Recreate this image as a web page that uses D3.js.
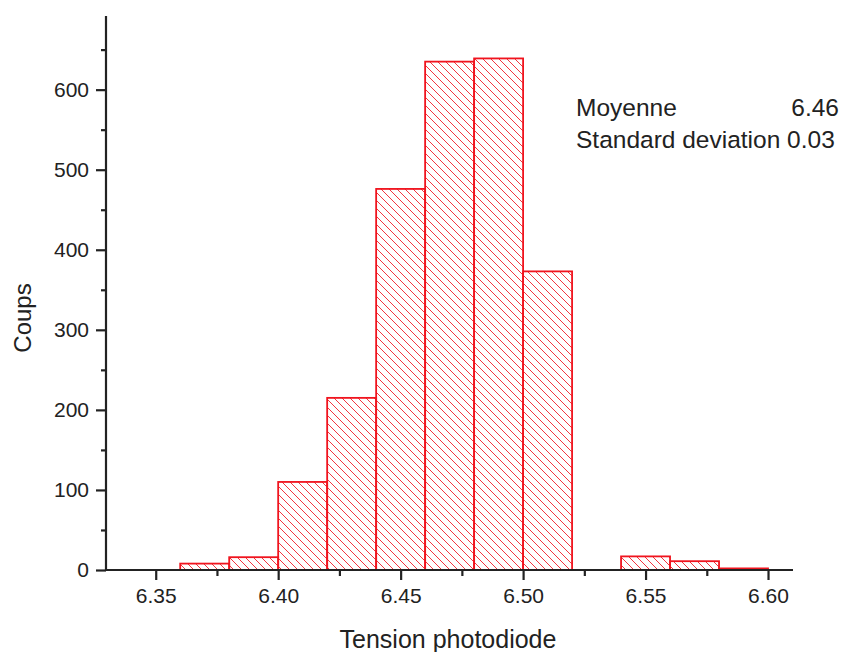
<!DOCTYPE html>
<html>
<head>
<meta charset="utf-8">
<script src="https://cdn.jsdelivr.net/npm/d3@7"></script>
<style>
  html, body { margin: 0; padding: 0; background: #fff; }
  svg { display: block; }
  text { font-family: "Liberation Sans", Arial, Helvetica, sans-serif; fill: #222; }
</style>
</head>
<body>
<svg id="chart" width="847" height="652"></svg>
<script>
// ---- data ----
const binEdges = [6.36, 6.38, 6.40, 6.42, 6.44, 6.46, 6.48, 6.50, 6.52, 6.54, 6.56, 6.58, 6.60];
const counts   = [8, 16, 110, 215, 476, 635, 639, 373, 0, 17, 11, 2];
const xMajorTicks = [6.35, 6.40, 6.45, 6.50, 6.55, 6.60];
const xMinorTicks = [6.375, 6.425, 6.475, 6.525, 6.575];
const yMajorTicks = [0, 100, 200, 300, 400, 500, 600];
const yMinorTicks = [50, 150, 250, 350, 450, 550, 650];
const statLabels = ["Moyenne", "Standard deviation"];
const statValues = ["6.46", "0.03"];
const xTitle = "Tension photodiode";
const yTitle = "Coups";

// ---- layout ----
const svg = d3.select("#chart");
const x0 = 106, x1 = 793, y0 = 570, y1 = 16;
const x = d3.scaleLinear().domain([6.3297, 6.6102]).range([x0, x1]);
const y = d3.scaleLinear().domain([0, 692]).range([y0, y1]);
const red = "#f0141e";

// hatch pattern
const defs = svg.append("defs");
const pat = defs.append("pattern")
  .attr("id", "hatch").attr("patternUnits", "userSpaceOnUse")
  .attr("width", 8).attr("height", 8);
pat.append("path")
  .attr("d", "M-2,-2 L10,10 M-2,6 L2,10 M6,-2 L10,2")
  .attr("stroke", red).attr("stroke-width", 1).attr("stroke-opacity", 0.85);

// bars
const bins = counts.map((c, i) => ({ x0: binEdges[i], x1: binEdges[i + 1], c }));
svg.append("g").selectAll("rect")
  .data(bins.filter(d => d.c > 0))
  .join("rect")
  .attr("x", d => x(d.x0))
  .attr("y", d => y(d.c))
  .attr("width", d => x(d.x1) - x(d.x0))
  .attr("height", d => y(0) - y(d.c))
  .attr("fill", "url(#hatch)")
  .attr("stroke", red)
  .attr("stroke-width", 1.8);

// x axis
const xAxis = svg.append("g").attr("transform", `translate(0,${y0})`);
xAxis.call(d3.axisBottom(x).tickValues(xMajorTicks).tickFormat(d3.format(".2f"))
  .tickSizeInner(10).tickSizeOuter(0).tickPadding(8));
xAxis.append("g").call(d3.axisBottom(x).tickValues(xMinorTicks).tickFormat("")
  .tickSizeInner(6).tickSizeOuter(0));
xAxis.selectAll(".domain").remove();
xAxis.append("line").attr("x1", x0 - 1).attr("x2", x1).attr("y1", 0).attr("y2", 0)
  .attr("stroke", "#222").attr("stroke-width", 2.2);

// y axis
const yAxis = svg.append("g").attr("transform", `translate(${x0},0)`);
yAxis.call(d3.axisLeft(y).tickValues(yMajorTicks).tickFormat(d3.format("d"))
  .tickSizeInner(10).tickSizeOuter(0).tickPadding(7));
yAxis.append("g").call(d3.axisLeft(y).tickValues(yMinorTicks).tickFormat("")
  .tickSizeInner(5).tickSizeOuter(0));
yAxis.selectAll(".domain").remove();
yAxis.append("line").attr("x1", 0).attr("x2", 0).attr("y1", y1).attr("y2", y0 + 1)
  .attr("stroke", "#222").attr("stroke-width", 2.2);

svg.selectAll(".tick line").attr("stroke", "#222").attr("stroke-width", 2.2);
svg.selectAll(".tick text").style("font-size", "21px").attr("fill", "#222")
  .style("font-family", '"Liberation Sans", Arial, sans-serif');

// titles
svg.append("text").attr("x", 448).attr("y", 648).attr("text-anchor", "middle")
  .style("font-size", "25px").text(xTitle);
svg.append("text").attr("transform", "translate(31,318) rotate(-90)")
  .attr("text-anchor", "middle").style("font-size", "24px").text(yTitle);

// stats
const st = svg.append("g");
statLabels.forEach((lab, i) => {
  const by = 116 + i * 32;
  if (i === 0) {
    st.append("text").attr("x", 576).attr("y", by).style("font-size", "24.5px").text(lab);
    st.append("text").attr("x", 839).attr("y", by).attr("text-anchor", "end")
      .style("font-size", "24.5px").text(statValues[i]);
  } else {
    st.append("text").attr("x", 576).attr("y", by).style("font-size", "24.5px")
      .text(lab + " " + statValues[i]);
  }
});
</script>
</body>
</html>
